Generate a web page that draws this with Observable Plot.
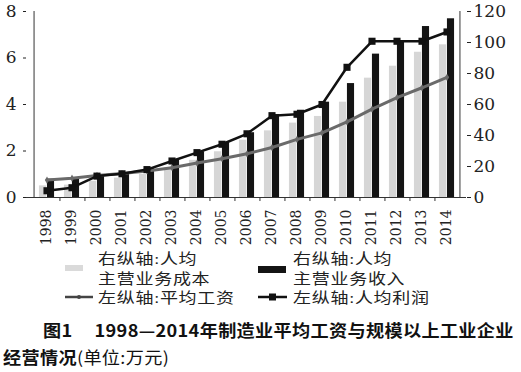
<!DOCTYPE html>
<html><head><meta charset="utf-8">
<script src="https://cdn.jsdelivr.net/npm/d3@7"></script>
<script src="https://cdn.jsdelivr.net/npm/@observablehq/plot@0.6"></script>
<style>
body{margin:0;background:#fff;}
#wrap{position:relative;width:521px;height:372px;overflow:hidden;background:#fff;}
#chart svg{display:block;}
.lg{position:absolute;font-family:"Liberation Serif","Noto Sans CJK SC";font-size:15px;letter-spacing:0.6px;color:#222;white-space:nowrap;transform:scaleX(1.2);transform-origin:0 0;}
.lg div{height:19.5px;line-height:19.5px;}
.cap{position:absolute;font-family:"Noto Sans CJK SC";font-size:16.5px;line-height:22px;letter-spacing:0.3px;color:#111;white-space:nowrap;font-weight:bold;transform:scaleX(1.1);transform-origin:0 0;}
.cap .n{font-weight:normal;}
#sw{position:absolute;left:0;top:0;pointer-events:none;}
</style></head><body>
<div id="wrap">
  <div id="chart"></div>
  <div class="lg" style="left:98px;top:250px;"><div>右纵轴:人均</div><div>主营业务成本</div><div>左纵轴:平均工资</div></div>
  <div class="lg" style="left:293px;top:250px;"><div>右纵轴:人均</div><div>主营业务收入</div><div>左纵轴:人均利润</div></div>
  <div class="cap" style="left:43px;top:319px;">图1<span style="margin-left:20px">1998—2014年制造业平均工资与规模以上工业企业</span></div>
  <div class="cap" style="left:3px;top:346px;">经营情况<span class="n">(单位:万元)</span></div>
  <svg id="sw" width="521" height="372">
    <rect x="65" y="265" width="18" height="6" fill="#dadada"/>
    <rect x="258" y="266" width="28" height="7" fill="#141414"/>
    <line x1="65" x2="93" y1="297" y2="297" stroke="#444" stroke-width="2.5"/>
    <circle cx="79" cy="297" r="2" fill="#444"/>
    <line x1="258" x2="287" y1="297" y2="297" stroke="#111" stroke-width="2.5"/>
    <rect x="269" y="293.5" width="7" height="7" fill="#111"/>
  </svg>
</div>
<script>
const years = ["1998","1999","2000","2001","2002","2003","2004","2005","2006","2007","2008","2009","2010","2011","2012","2013","2014"];
// left axis (万元)
const wage   = [0.75,0.83,0.95,1.03,1.14,1.28,1.48,1.67,1.88,2.15,2.50,2.78,3.25,3.80,4.30,4.72,5.17];
const profit = [0.29,0.42,0.92,1.02,1.20,1.57,1.93,2.29,2.74,3.52,3.58,4.00,5.60,6.72,6.72,6.72,7.12];
// right axis (万元)
const cost    = [7.5,8.0,10.5,12.5,15.0,19.0,24.0,29.5,37.0,43.0,48.0,52.3,61.5,77.0,84.7,93.7,98.5];
const revenue = [11.8,12.5,14.8,16.0,18.5,24.6,29.5,35.4,41.8,53.5,56.3,61.5,73.5,92.5,100.8,110.3,115.3];
const leftTicks = [0,2,4,6,8];
const rightTicks = [0,20,40,60,80,100,120];
const k = 120 / 8; // right-axis units per left-axis unit

const rows = years.map((year, i) => ({year, wage: wage[i], profit: profit[i], cost: cost[i], revenue: revenue[i]}));

const W = 521, H = 250, mL = 26, mR = 55;
const bw = (W - mL - mR) / years.length;
const barW = 8;

const chart = Plot.plot({
  width: W, height: H,
  marginLeft: mL, marginRight: mR, marginTop: 11, marginBottom: 53,
  x: {type: "band", domain: years, padding: 0},
  y: {domain: [0, 120]},
  style: {background: "white", color: "#222"},
  marks: [
    Plot.barY(rows, {x: "year", y: "cost", fill: "#d6d6d6", insetLeft: bw/2 - barW, insetRight: bw/2}),
    Plot.barY(rows, {x: "year", y: "revenue", fill: "#141414", insetLeft: bw/2, insetRight: bw/2 - barW}),
    Plot.line(rows, {x: "year", y: d => d.wage * k, stroke: "#6a6a6a", strokeWidth: 3}),
    Plot.dot(rows, {x: "year", y: d => d.wage * k, symbol: "diamond", r: 2.2, fill: "#6a6a6a"}),
    Plot.line(rows, {x: "year", y: d => d.profit * k, stroke: "#111", strokeWidth: 2.5}),
    Plot.dot(rows, {x: "year", y: d => d.profit * k, symbol: "square", r: 4, fill: "#111"}),
    Plot.ruleY([0], {stroke: "#333"}),
    Plot.ruleX([years[0]], {dx: -bw/2, y1: 0, y2: 120, stroke: "#333"}),
    Plot.ruleX([years[years.length - 1]], {dx: bw/2, y1: 0, y2: 120, stroke: "#333"}),
    Plot.ruleX(years.slice(0, -1), {dx: bw/2, y1: 0, y2: -2.6, stroke: "#333"}),
    Plot.axisY({anchor: "left", ticks: leftTicks.map(v => v * k), tickFormat: d => d / k, tickSize: 3, tickPadding: 7, fontSize: 17, fontFamily: "DejaVu Serif", label: null}),
    Plot.axisY({anchor: "right", ticks: rightTicks, tickSize: 4, tickPadding: 3, fontSize: 17, fontFamily: "DejaVu Serif", label: null}),
    Plot.axisX({tickRotate: -90, tickSize: 0, tickPadding: 12, fontSize: 14, fontFamily: "DejaVu Serif", label: null})
  ]
});
document.getElementById("chart").appendChild(chart);
</script>
</body></html>
